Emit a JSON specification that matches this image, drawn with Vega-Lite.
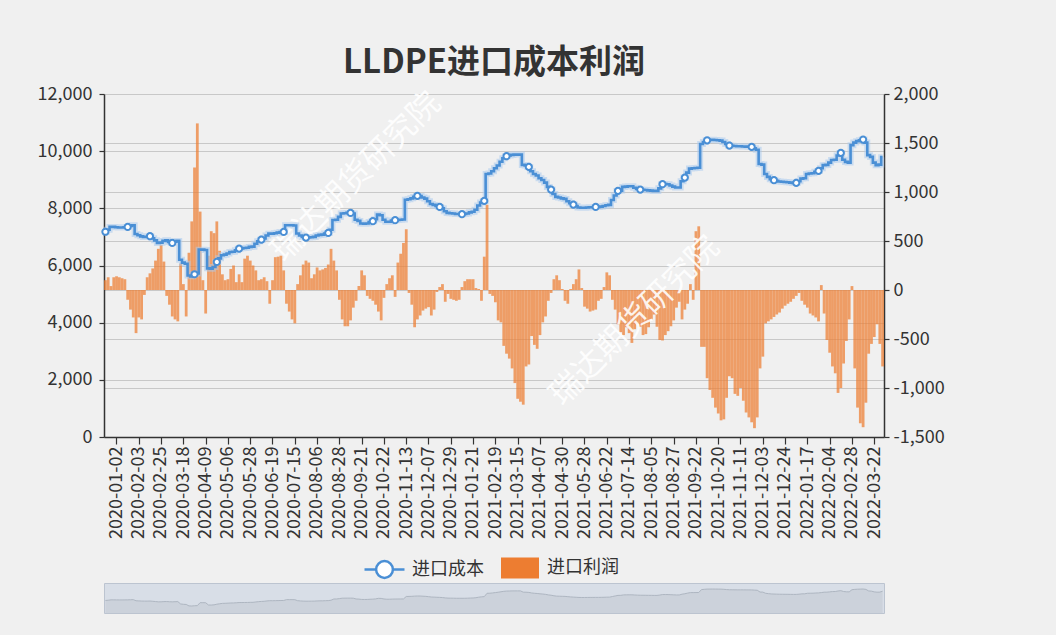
{
"$schema": "https://vega.github.io/schema/vega-lite/v6.json",
"background": "#f0f0f0",
"padding": {"left": 37, "top": 47, "right": 116, "bottom": 21},
"autosize": {"type": "pad"},
"config": {
  "font": "Noto Sans CJK SC",
  "axis": {"labelFont": "Noto Sans CJK SC", "labelFontSize": 18, "labelColor": "#333333", "domainColor": "#333333", "domainWidth": 1.5, "tickColor": "#333333", "tickWidth": 1.2, "gridColor": "#c8c8c8", "gridWidth": 1, "title": null},
  "view": {"stroke": null}
},
"datasets": {"main": [
{"d":"2020-01-02","c":7180,"p":100},{"d":"2020-01-06","c":7250,"p":130},{"d":"2020-01-08","c":7350,"p":40},{"d":"2020-01-10","c":7350,"p":130},{"d":"2020-01-14","c":7340,"p":140},{"d":"2020-01-16","c":7330,"p":130},{"d":"2020-01-20","c":7330,"p":120},{"d":"2020-01-22","c":7340,"p":110},
{"d":"2020-02-03","c":7350,"p":-100},{"d":"2020-02-05","c":7380,"p":-200},{"d":"2020-02-07","c":7410,"p":-280},{"d":"2020-02-11","c":7100,"p":-440},{"d":"2020-02-13","c":7060,"p":-280},{"d":"2020-02-17","c":7020,"p":-300},{"d":"2020-02-19","c":7000,"p":-50},{"d":"2020-02-21","c":7000,"p":130},
{"d":"2020-02-25","c":7025,"p":170},{"d":"2020-02-27","c":6950,"p":220},{"d":"2020-03-02","c":6880,"p":300},{"d":"2020-03-04","c":6790,"p":420},{"d":"2020-03-06","c":6800,"p":460},{"d":"2020-03-10","c":6860,"p":290},{"d":"2020-03-12","c":6880,"p":-60},{"d":"2020-03-16","c":6820,"p":-150},
{"d":"2020-03-18","c":6790,"p":-270},{"d":"2020-03-20","c":6830,"p":-300},{"d":"2020-03-24","c":6860,"p":-320},{"d":"2020-03-26","c":6200,"p":270},{"d":"2020-03-30","c":6100,"p":60},{"d":"2020-04-01","c":6060,"p":-270},{"d":"2020-04-03","c":5650,"p":380},{"d":"2020-04-07","c":5620,"p":700},
{"d":"2020-04-09","c":5695,"p":1250},{"d":"2020-04-13","c":5720,"p":1700},{"d":"2020-04-15","c":6555,"p":800},{"d":"2020-04-17","c":6555,"p":100},{"d":"2020-04-21","c":6540,"p":-240},{"d":"2020-04-23","c":5900,"p":350},{"d":"2020-04-27","c":5890,"p":600},{"d":"2020-04-29","c":5950,"p":580},
{"d":"2020-05-06","c":6125,"p":700},{"d":"2020-05-08","c":6250,"p":400},{"d":"2020-05-12","c":6360,"p":160},{"d":"2020-05-14","c":6380,"p":100},{"d":"2020-05-18","c":6420,"p":110},{"d":"2020-05-20","c":6470,"p":215},{"d":"2020-05-22","c":6480,"p":250},{"d":"2020-05-26","c":6530,"p":80},
{"d":"2020-05-28","c":6590,"p":160},{"d":"2020-06-01","c":6600,"p":80},{"d":"2020-06-03","c":6610,"p":320},{"d":"2020-06-05","c":6620,"p":350},{"d":"2020-06-09","c":6650,"p":300},{"d":"2020-06-11","c":6660,"p":250},{"d":"2020-06-15","c":6760,"p":200},{"d":"2020-06-17","c":6850,"p":100},
{"d":"2020-06-19","c":6905,"p":110},{"d":"2020-06-23","c":6950,"p":130},{"d":"2020-06-29","c":7050,"p":90},{"d":"2020-07-01","c":7115,"p":-140},{"d":"2020-07-03","c":7110,"p":100},{"d":"2020-07-07","c":7130,"p":335},{"d":"2020-07-09","c":7150,"p":340},{"d":"2020-07-13","c":7170,"p":350},
{"d":"2020-07-15","c":7175,"p":200},{"d":"2020-07-17","c":7410,"p":-140},{"d":"2020-07-21","c":7410,"p":-220},{"d":"2020-07-23","c":7410,"p":-300},{"d":"2020-07-27","c":7400,"p":-340},{"d":"2020-07-29","c":7120,"p":60},{"d":"2020-07-31","c":7050,"p":150},{"d":"2020-08-04","c":7000,"p":260},
{"d":"2020-08-06","c":6975,"p":300},{"d":"2020-08-10","c":6980,"p":280},{"d":"2020-08-12","c":6990,"p":120},{"d":"2020-08-14","c":7000,"p":160},{"d":"2020-08-18","c":7050,"p":230},{"d":"2020-08-20","c":7070,"p":200},{"d":"2020-08-24","c":7080,"p":210},{"d":"2020-08-26","c":7120,"p":225},
{"d":"2020-08-28","c":7140,"p":260},{"d":"2020-09-01","c":7250,"p":420},{"d":"2020-09-03","c":7590,"p":300},{"d":"2020-09-07","c":7600,"p":200},{"d":"2020-09-09","c":7700,"p":-100},{"d":"2020-09-11","c":7820,"p":-300},{"d":"2020-09-15","c":7830,"p":-370},{"d":"2020-09-17","c":7840,"p":-370},
{"d":"2020-09-21","c":7840,"p":-310},{"d":"2020-09-23","c":7820,"p":-180},{"d":"2020-09-25","c":7600,"p":-110},{"d":"2020-09-29","c":7560,"p":40},{"d":"2020-10-09","c":7470,"p":200},{"d":"2020-10-13","c":7460,"p":150},{"d":"2020-10-15","c":7470,"p":-60},{"d":"2020-10-19","c":7520,"p":-90},
{"d":"2020-10-22","c":7550,"p":-110},{"d":"2020-10-26","c":7620,"p":-150},{"d":"2020-10-28","c":7780,"p":-220},{"d":"2020-10-30","c":7760,"p":-310},{"d":"2020-11-03","c":7600,"p":-80},{"d":"2020-11-05","c":7530,"p":60},{"d":"2020-11-09","c":7530,"p":120},{"d":"2020-11-11","c":7570,"p":150},
{"d":"2020-11-13","c":7585,"p":-70},{"d":"2020-11-17","c":7590,"p":280},{"d":"2020-11-19","c":7600,"p":370},{"d":"2020-11-23","c":7610,"p":480},{"d":"2020-11-25","c":8300,"p":620},{"d":"2020-11-27","c":8320,"p":-30},{"d":"2020-12-01","c":8350,"p":-150},{"d":"2020-12-03","c":8400,"p":-380},
{"d":"2020-12-07","c":8435,"p":-300},{"d":"2020-12-09","c":8430,"p":-260},{"d":"2020-12-11","c":8380,"p":-210},{"d":"2020-12-15","c":8340,"p":-190},{"d":"2020-12-17","c":8250,"p":-175},{"d":"2020-12-21","c":8150,"p":-260},{"d":"2020-12-23","c":8120,"p":-200},{"d":"2020-12-25","c":8080,"p":-20},
{"d":"2020-12-29","c":8050,"p":30},{"d":"2020-12-31","c":8000,"p":60},{"d":"2021-01-05","c":7900,"p":-120},{"d":"2021-01-07","c":7840,"p":-40},{"d":"2021-01-11","c":7830,"p":-90},{"d":"2021-01-13","c":7820,"p":-100},{"d":"2021-01-15","c":7800,"p":-110},{"d":"2021-01-19","c":7800,"p":-100},
{"d":"2021-01-21","c":7795,"p":30},{"d":"2021-01-25","c":7800,"p":90},{"d":"2021-01-27","c":7820,"p":110},{"d":"2021-01-29","c":7860,"p":110},{"d":"2021-02-02","c":7880,"p":110},{"d":"2021-02-04","c":7950,"p":20},{"d":"2021-02-08","c":8100,"p":10},{"d":"2021-02-10","c":8200,"p":-110},
{"d":"2021-02-19","c":8260,"p":340},{"d":"2021-02-23","c":9200,"p":870},{"d":"2021-02-25","c":9220,"p":-40},{"d":"2021-03-01","c":9300,"p":-60},{"d":"2021-03-03","c":9400,"p":-125},{"d":"2021-03-05","c":9500,"p":-310},{"d":"2021-03-09","c":9630,"p":-330},{"d":"2021-03-11","c":9750,"p":-570},
{"d":"2021-03-15","c":9825,"p":-650},{"d":"2021-03-17","c":9850,"p":-700},{"d":"2021-03-19","c":9870,"p":-800},{"d":"2021-03-23","c":9880,"p":-950},{"d":"2021-03-25","c":9880,"p":-1110},{"d":"2021-03-29","c":9880,"p":-1140},{"d":"2021-03-31","c":9520,"p":-1170},{"d":"2021-04-02","c":9500,"p":-780},
{"d":"2021-04-07","c":9450,"p":-760},{"d":"2021-04-09","c":9300,"p":-470},{"d":"2021-04-13","c":9200,"p":-560},{"d":"2021-04-15","c":9150,"p":-600},{"d":"2021-04-19","c":9050,"p":-460},{"d":"2021-04-21","c":8990,"p":-330},{"d":"2021-04-23","c":8900,"p":-270},{"d":"2021-04-27","c":8750,"p":-110},
{"d":"2021-04-30","c":8655,"p":-30},{"d":"2021-05-07","c":8500,"p":110},{"d":"2021-05-11","c":8400,"p":150},{"d":"2021-05-13","c":8380,"p":100},{"d":"2021-05-17","c":8350,"p":10},{"d":"2021-05-19","c":8330,"p":-110},{"d":"2021-05-21","c":8250,"p":-140},{"d":"2021-05-25","c":8180,"p":10},
{"d":"2021-05-28","c":8130,"p":60},{"d":"2021-06-01","c":8080,"p":110},{"d":"2021-06-03","c":8030,"p":210},{"d":"2021-06-07","c":8020,"p":20},{"d":"2021-06-09","c":8020,"p":-170},{"d":"2021-06-11","c":8030,"p":-190},{"d":"2021-06-16","c":8040,"p":-220},{"d":"2021-06-18","c":8040,"p":-210},
{"d":"2021-06-22","c":8050,"p":-200},{"d":"2021-06-24","c":8050,"p":-110},{"d":"2021-06-28","c":8060,"p":-90},{"d":"2021-06-30","c":8080,"p":30},{"d":"2021-07-02","c":8110,"p":180},{"d":"2021-07-06","c":8120,"p":150},{"d":"2021-07-08","c":8290,"p":-100},{"d":"2021-07-12","c":8450,"p":-200},
{"d":"2021-07-14","c":8610,"p":-350},{"d":"2021-07-16","c":8620,"p":-430},{"d":"2021-07-20","c":8750,"p":-460},{"d":"2021-07-22","c":8760,"p":-380},{"d":"2021-07-26","c":8770,"p":-440},{"d":"2021-07-28","c":8770,"p":-540},{"d":"2021-07-30","c":8720,"p":-400},{"d":"2021-08-03","c":8680,"p":-345},
{"d":"2021-08-05","c":8655,"p":-375},{"d":"2021-08-09","c":8650,"p":-460},{"d":"2021-08-11","c":8640,"p":-450},{"d":"2021-08-13","c":8630,"p":-380},{"d":"2021-08-17","c":8620,"p":-300},{"d":"2021-08-19","c":8610,"p":-250},{"d":"2021-08-23","c":8610,"p":-375},{"d":"2021-08-25","c":8700,"p":-510},
{"d":"2021-08-27","c":8845,"p":-515},{"d":"2021-08-31","c":8850,"p":-460},{"d":"2021-09-02","c":8840,"p":-420},{"d":"2021-09-06","c":8800,"p":-370},{"d":"2021-09-08","c":8760,"p":-310},{"d":"2021-09-10","c":8730,"p":-180},{"d":"2021-09-14","c":8730,"p":-120},{"d":"2021-09-16","c":8950,"p":-300},
{"d":"2021-09-22","c":9075,"p":-200},{"d":"2021-09-24","c":9250,"p":-140},{"d":"2021-09-28","c":9390,"p":60},{"d":"2021-09-30","c":9400,"p":-100},{"d":"2021-10-11","c":9410,"p":600},{"d":"2021-10-13","c":9420,"p":650},{"d":"2021-10-15","c":10250,"p":-580},{"d":"2021-10-18","c":10320,"p":-580},
{"d":"2021-10-20","c":10380,"p":-900},{"d":"2021-10-22","c":10390,"p":-1020},{"d":"2021-10-26","c":10400,"p":-1100},{"d":"2021-10-28","c":10390,"p":-1200},{"d":"2021-11-01","c":10380,"p":-1260},{"d":"2021-11-03","c":10370,"p":-1330},{"d":"2021-11-05","c":10320,"p":-1320},{"d":"2021-11-09","c":10250,"p":-1100},
{"d":"2021-11-11","c":10195,"p":-880},{"d":"2021-11-15","c":10190,"p":-900},{"d":"2021-11-17","c":10180,"p":-1060},{"d":"2021-11-19","c":10170,"p":-1080},{"d":"2021-11-23","c":10170,"p":-1000},{"d":"2021-11-25","c":10165,"p":-1130},{"d":"2021-11-29","c":10160,"p":-1250},{"d":"2021-12-01","c":10155,"p":-1300},
{"d":"2021-12-03","c":10150,"p":-1350},{"d":"2021-12-07","c":10100,"p":-1410},{"d":"2021-12-09","c":10050,"p":-1300},{"d":"2021-12-13","c":9550,"p":-800},{"d":"2021-12-15","c":9530,"p":-680},{"d":"2021-12-17","c":9200,"p":-340},{"d":"2021-12-21","c":9100,"p":-320},{"d":"2021-12-22","c":9020,"p":-300},
{"d":"2021-12-24","c":8985,"p":-275},{"d":"2021-12-28","c":8960,"p":-250},{"d":"2021-12-30","c":8940,"p":-230},{"d":"2022-01-04","c":8930,"p":-190},{"d":"2022-01-06","c":8920,"p":-160},{"d":"2022-01-10","c":8910,"p":-140},{"d":"2022-01-12","c":8900,"p":-120},{"d":"2022-01-14","c":8890,"p":-90},
{"d":"2022-01-17","c":8890,"p":-60},{"d":"2022-01-19","c":8950,"p":-30},{"d":"2022-01-21","c":9040,"p":-110},{"d":"2022-01-25","c":9050,"p":-150},{"d":"2022-01-27","c":9200,"p":-180},{"d":"2022-01-29","c":9220,"p":-240},{"d":"2022-01-31","c":9230,"p":-260},{"d":"2022-02-02","c":9280,"p":-280},
{"d":"2022-02-04","c":9310,"p":-320},{"d":"2022-02-08","c":9400,"p":50},{"d":"2022-02-10","c":9510,"p":-240},{"d":"2022-02-14","c":9520,"p":-510},{"d":"2022-02-16","c":9600,"p":-640},{"d":"2022-02-18","c":9690,"p":-780},{"d":"2022-02-22","c":9700,"p":-850},{"d":"2022-02-24","c":9850,"p":-1050},
{"d":"2022-02-28","c":9940,"p":-1000},{"d":"2022-03-02","c":9700,"p":-750},{"d":"2022-03-04","c":9625,"p":-520},{"d":"2022-03-08","c":9600,"p":-300},{"d":"2022-03-10","c":10210,"p":40},{"d":"2022-03-14","c":10300,"p":-800},{"d":"2022-03-16","c":10350,"p":-1200},{"d":"2022-03-18","c":10380,"p":-1360},
{"d":"2022-03-22","c":10405,"p":-1400},{"d":"2022-03-24","c":10300,"p":-1150},{"d":"2022-03-28","c":9860,"p":-650},{"d":"2022-03-30","c":9800,"p":-550},{"d":"2022-04-01","c":9600,"p":-480},{"d":"2022-04-06","c":9510,"p":-350},{"d":"2022-04-08","c":9530,"p":-550},{"d":"2022-04-12","c":9790,"p":-780}
]},
"vconcat": [
{
  "title": {"text": "LLDPE进口成本利润", "anchor": "middle", "frame": "group", "font": "Noto Sans CJK SC", "fontSize": 33, "fontWeight": "bold", "color": "#333333", "offset": 5},
  "width": 780,
  "height": 343,
  "data": {"name": "main"},
  "resolve": {"scale": {"y": "independent"}},
  "layer": [
    {
      "mark": {"type": "bar", "opacity": 0.72},
      "encoding": {
        "x": {"field": "d", "type": "ordinal", "sort": null,
              "scale": {"paddingInner": 0, "paddingOuter": 0},
              "axis": {"values": ["2020-01-02","2020-02-03","2020-02-25","2020-03-18","2020-04-09","2020-05-06","2020-05-28","2020-06-19","2020-07-15","2020-08-06","2020-08-28","2020-09-21","2020-10-22","2020-11-13","2020-12-07","2020-12-29","2021-01-21","2021-02-19","2021-03-15","2021-04-07","2021-04-30","2021-05-28","2021-06-22","2021-07-14","2021-08-05","2021-08-27","2021-09-22","2021-10-20","2021-11-11","2021-12-03","2021-12-24","2022-01-17","2022-02-04","2022-02-28","2022-03-22"],
                       "labelAngle": -90, "labelAlign": "right", "labelBaseline": "middle", "labelOverlap": false, "tickSize": 7, "tickOffset": 11, "labelPadding": 2, "grid": false, "title": null}},
        "y": {"field": "p", "type": "quantitative",
              "scale": {"domain": [-1500, 2000], "nice": false},
              "axis": {"orient": "right", "values": [-1500,-1000,-500,0,500,1000,1500,2000], "labelExpr": "replace(format(datum.value, ',d'), '\u2212', '-')", "grid": true, "tickSize": 5, "labelPadding": 4, "title": null}},
        "fill": {"datum": "进口利润", "type": "nominal",
                 "scale": {"domain": ["进口利润"], "range": ["#ed7d31"]},
                 "legend": {"orient": "none", "legendX": 396, "legendY": 454, "title": null,
                            "labelFont": "Noto Sans CJK SC", "labelFontSize": 18, "labelColor": "#333333", "labelOffset": 7,
                            "symbolType": "M-0.95,-0.52H0.95V0.52H-0.95Z", "symbolSize": 1600, "symbolOpacity": 1, "symbolStrokeWidth": 0}}
      }
    },
    {
      "layer": [
        {
          "data": {"values": [{"w": "瑞达期货研究院"}]},
          "mark": {"type": "text", "angle": -45, "fontSize": 32, "font": "Noto Sans CJK SC", "color": "#ffffff", "opacity": 0.88, "align": "center", "baseline": "middle"},
          "encoding": {"x": {"datum": "2020-09-25", "type": "ordinal"}, "y": {"datum": 9100, "type": "quantitative"}, "text": {"field": "w"}}
        },
        {
          "data": {"values": [{"w": "瑞达期货研究院"}]},
          "mark": {"type": "text", "angle": -45, "fontSize": 32, "font": "Noto Sans CJK SC", "color": "#ffffff", "opacity": 0.88, "align": "center", "baseline": "middle"},
          "encoding": {"x": {"datum": "2021-07-30", "type": "ordinal"}, "y": {"datum": 4060, "type": "quantitative"}, "text": {"field": "w"}}
        },
        {
          "mark": {"type": "line", "interpolate": "step", "strokeWidth": 6, "color": "#a9cbee", "opacity": 0.55},
          "encoding": {"x": {"field": "d", "type": "ordinal", "sort": null}, "y": {"field": "c", "type": "quantitative"}}
        },
        {
          "mark": {"type": "line", "interpolate": "step", "strokeWidth": 2.6},
          "encoding": {
            "x": {"field": "d", "type": "ordinal", "sort": null},
            "y": {"field": "c", "type": "quantitative",
                  "scale": {"domain": [0, 12000], "nice": false},
                  "axis": {"orient": "left", "values": [0,2000,4000,6000,8000,10000,12000], "labelExpr": "format(datum.value, ',d')", "grid": true, "tickSize": 5, "labelPadding": 7, "title": null}},
            "stroke": {"datum": "进口成本", "type": "nominal",
                       "scale": {"domain": ["进口成本"], "range": ["#4a8fd5"]},
                       "legend": {"orient": "none", "legendX": 259, "legendY": 454, "title": null,
                                  "labelFont": "Noto Sans CJK SC", "labelFontSize": 18, "labelColor": "#333333", "labelOffset": 6,
                                  "symbolType": "M-1,0H-0.42M0.42,0H1M-0.42,0A0.42,0.42 0 1,1 0.42,0A0.42,0.42 0 1,1 -0.42,0Z",
                                  "symbolSize": 1600, "symbolStrokeWidth": 2.5, "symbolFillColor": "#ffffff", "symbolStrokeColor": "#8db8e4", "symbolOpacity": 1}}
          }
        },
        {
          "transform": [{"filter": {"field": "d", "oneOf": ["2020-01-02","2020-02-03","2020-02-25","2020-03-18","2020-04-09","2020-05-06","2020-05-28","2020-06-19","2020-07-15","2020-08-06","2020-08-28","2020-09-21","2020-10-22","2020-11-13","2020-12-07","2020-12-29","2021-01-21","2021-02-19","2021-03-15","2021-04-07","2021-04-30","2021-05-28","2021-06-22","2021-07-14","2021-08-05","2021-08-27","2021-09-22","2021-10-20","2021-11-11","2021-12-03","2021-12-24","2022-01-17","2022-02-04","2022-02-28","2022-03-22"]}}],
          "mark": {"type": "point", "filled": true, "fill": "#ffffff", "stroke": "#4a8fd5", "strokeWidth": 2, "size": 38, "opacity": 1},
          "encoding": {"x": {"field": "d", "type": "ordinal", "sort": null}, "y": {"field": "c", "type": "quantitative"}}
        }
      ]
    }
  ]
},
{
  "width": 780,
  "height": 30,
  "data": {"name": "main"},
  "view": {"fill": "#d8dee7", "stroke": "#bcc4d0"},
  "mark": {"type": "area", "clip": true, "color": "#ccd2db", "opacity": 1, "line": {"color": "#aeb6c1", "strokeWidth": 1, "clip": true}},
  "encoding": {
    "x": {"field": "d", "type": "ordinal", "sort": null, "axis": null, "scale": {"paddingInner": 0, "paddingOuter": 0}},
    "y": {"field": "c", "type": "quantitative", "axis": null, "scale": {"domain": [3650, 12100], "nice": false, "zero": false}}
  }
}
],
"spacing": -7,
"resolve": {"scale": {"x": "independent", "y": "independent", "fill": "independent", "stroke": "independent"}, "legend": {"fill": "independent", "stroke": "independent"}}
}
